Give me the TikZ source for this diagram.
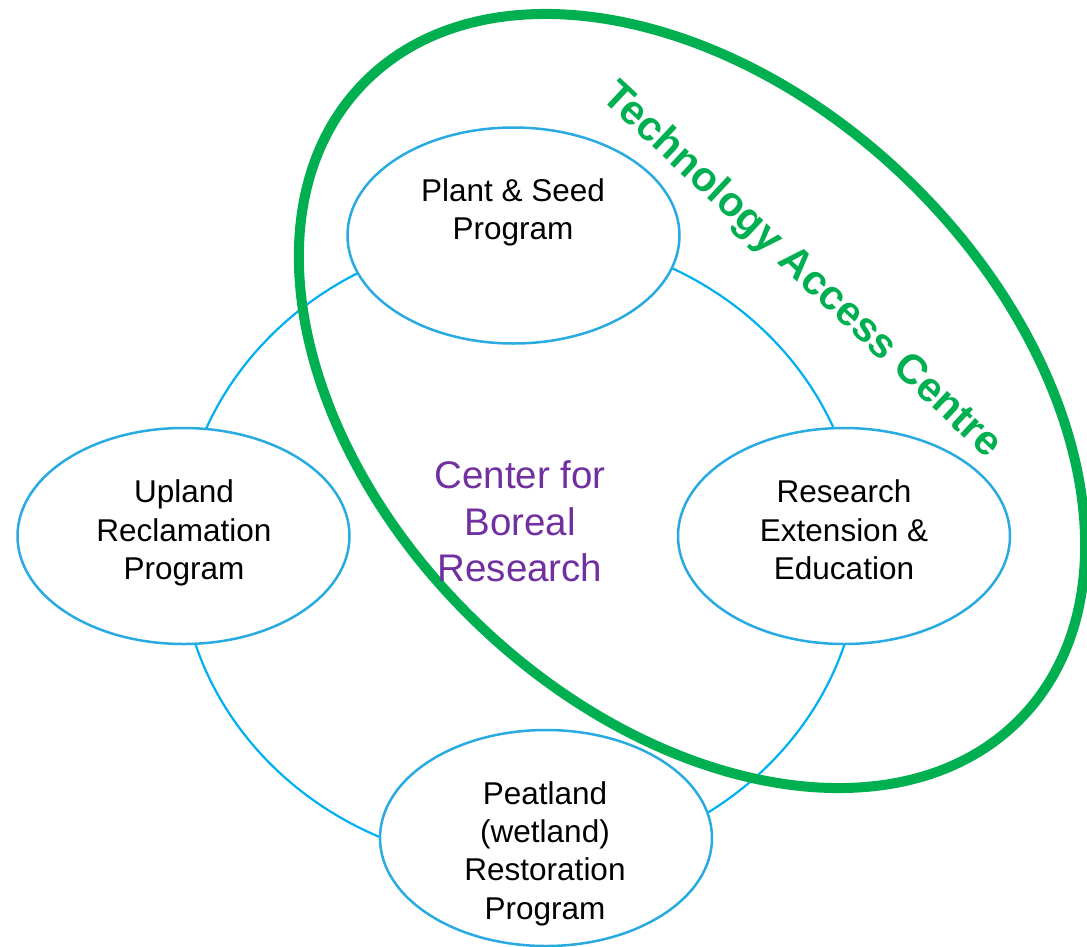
\documentclass[tikz,border=0pt]{standalone}
\usepackage{fontspec}
\setmainfont{Liberation Sans}
\usetikzlibrary{shapes.geometric}
\definecolor{ringblue}{RGB}{0,176,240}
\definecolor{ovalblue}{RGB}{41,171,226}
\definecolor{tacgreen}{RGB}{0,176,80}
\definecolor{cbrpurple}{RGB}{112,48,160}

\begin{document}
\begin{tikzpicture}[x=1pt,y=-1pt,
  ring/.style={ellipse, draw=ringblue, line width=2.2pt, minimum width=680pt,
    minimum height=630pt, inner sep=0pt, outer sep=0pt},
  program/.style={ellipse, draw=ovalblue, fill=white, line width=2.5pt,
    minimum width=332pt, minimum height=216pt, inner sep=0pt, outer sep=0pt},
  programtext/.style={align=center, font=\fontsize{31.5}{38.3}\selectfont, inner sep=0pt},
  centretext/.style={align=center, text=cbrpurple,
    font=\fontsize{38.5}{46.7}\selectfont, inner sep=0pt},
  access/.style={ellipse, draw=tacgreen, line width=10pt, minimum width=914pt,
    minimum height=618pt, inner sep=0pt, outer sep=0pt},
  accesstext/.style={text=tacgreen, font=\fontsize{41.5}{50}\selectfont\bfseries, inner sep=0pt}]
\useasboundingbox (0,0) rectangle (1087,946);

% ring linking the four programs
\node[ring] (ring) at (520,550) {};

% the four programs
\node[program] (plant)    at (513.5,235.5) {};
\node[program] (upland)   at (183.5,536) {};
\node[program] (research) at (844,536) {};
\node[program] (peat)     at (546,838) {};

% technology access centre outline
\node[access, rotate=-43.8] (tac) at (692,401) {};

% labels
\node[programtext] (plantlabel)    at (513,212.5) {Plant \& Seed\\Program};
\node[programtext] (uplandlabel)   at (184,533)   {Upland\\Reclamation\\Program};
\node[programtext] (researchlabel) at (844,530)   {Research\\Extension \&\\Education};
\node[programtext] (peatlabel)     at (545,853.5) {Peatland\\(wetland)\\Restoration\\Program};
\node[centretext]  (cbr)           at (520,521.5) {Center for\\Boreal\\Research};
\node[accesstext, rotate=-43] (tactitle) at (801,271) {Technology Access Centre};
\end{tikzpicture}
\end{document}
